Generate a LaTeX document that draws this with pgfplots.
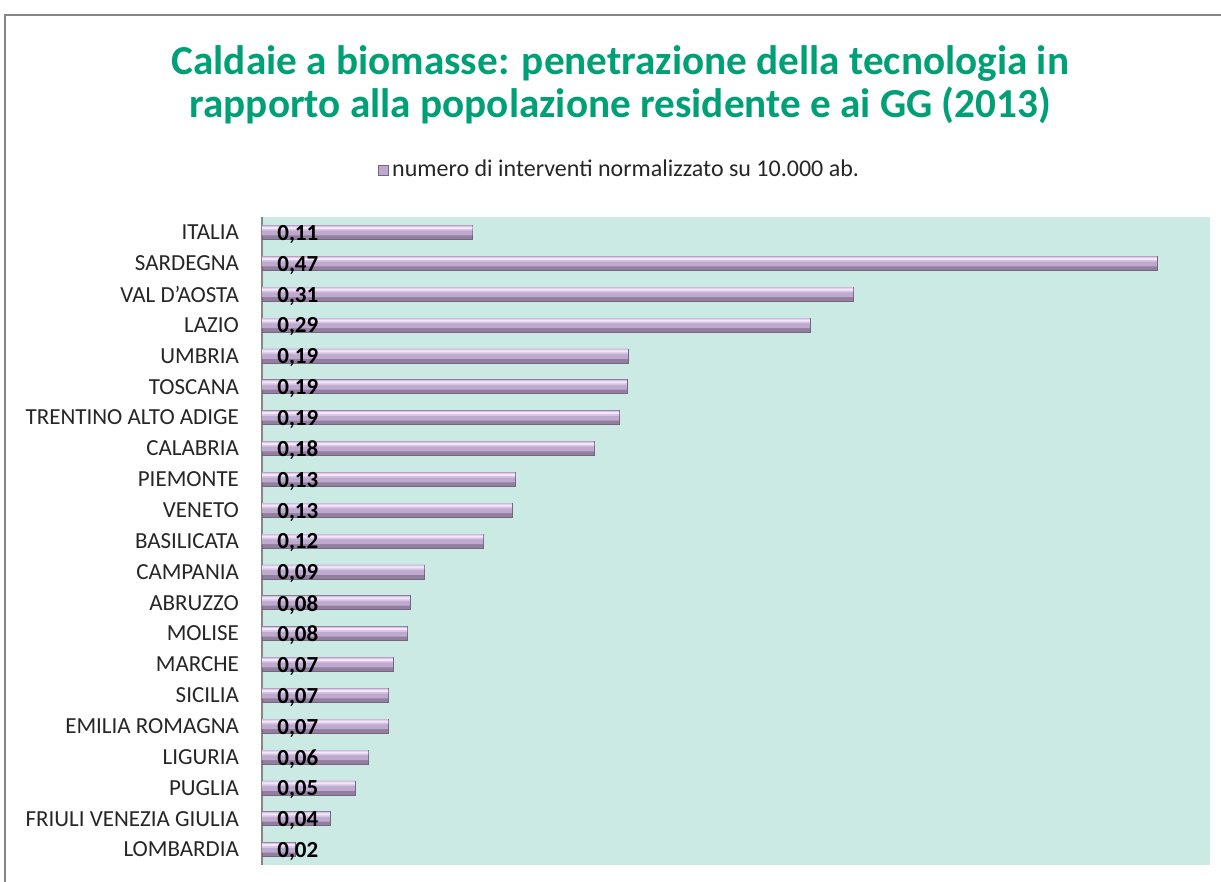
\documentclass[border=0pt]{standalone}
\usepackage{pgfplots}
\usepackage{pgfplotstable}
\pgfplotsset{compat=1.18}
\usepackage{fontspec}
\setmainfont{Carlito}
\definecolor{titlegreen}{RGB}{0,160,118}
\definecolor{plotbg}{RGB}{204,234,228}
\definecolor{barhi}{RGB}{246,230,250}
\definecolor{barlight}{RGB}{214,196,228}
\definecolor{barmid}{RGB}{190,170,206}
\definecolor{barbot}{RGB}{146,126,158}
\definecolor{bardraw}{RGB}{118,100,128}
\definecolor{framegray}{RGB}{134,134,134}
\pgfplotstableread{
idx val lab
0 0.1105 0,11
1 0.4700 0,47
2 0.3104 0,31
3 0.2878 0,29
4 0.1922 0,19
5 0.1917 0,19
6 0.1875 0,19
7 0.1744 0,18
8 0.1329 0,13
9 0.1313 0,13
10 0.1161 0,12
11 0.0851 0,09
12 0.0777 0,08
13 0.0762 0,08
14 0.0688 0,07
15 0.0662 0,07
16 0.0662 0,07
17 0.0557 0,06
18 0.0488 0,05
19 0.0357 0,04
20 0.0173 0,02
}\datatab
\begin{document}
\begin{tikzpicture}[x=1pt,y=1pt]
\useasboundingbox (0,0) rectangle (610.5,441);
\draw[framegray, line width=1pt] (2.5,0) -- (2.5,433.5) -- (610.5,433.5);
\begin{axis}[
  at={(131pt,8.5pt)}, anchor=south west,
  scale only axis, width=474pt, height=324pt,
  xmin=0, xmax=0.4979,
  ymin=-0.5, ymax=20.5, y dir=reverse,
  axis x line=none,
  axis y line*=left,
  y axis line style={framegray, line width=0.6pt, -},
  axis background/.style={fill=plotbg},
  ytick={0,...,20},
  major tick length=0pt,
  yticklabels={ITALIA,SARDEGNA,VAL D'AOSTA,LAZIO,UMBRIA,TOSCANA,TRENTINO ALTO ADIGE,CALABRIA,PIEMONTE,VENETO,BASILICATA,CAMPANIA,ABRUZZO,MOLISE,MARCHE,SICILIA,EMILIA ROMAGNA,LIGURIA,PUGLIA,FRIULI VENEZIA GIULIA,LOMBARDIA},
  yticklabel style={font=\fontsize{11.5}{13}\selectfont, text=black!85, anchor=east, xshift=-8pt},
  title={Caldaie a biomasse: penetrazione della tecnologia in\\rapporto alla popolazione residente e ai GG (2013)},
  title style={at={(0.378,1.186)}, anchor=center, align=center, font=\fontsize{20.6}{21.5}\selectfont\bfseries, text=titlegreen},
  legend style={at={(0.378,1.0725)}, anchor=center, draw=none, fill=none, font=\fontsize{12}{14}\selectfont, text=black!85, inner sep=0pt},
  legend image code/.code={\fill[barmid, draw=bardraw, line width=0.3pt] (0pt,-2.5pt) rectangle (5pt,2.5pt);},
  clip=false,
]
\addplot[xbar, bar width=7pt, bar shift=0pt, fill=barbot, draw=bardraw, line width=0.3pt] table[x=val, y=idx] {\datatab};
\addlegendentry{numero di interventi normalizzato su 10.000 ab.}
\addplot[forget plot, xbar, bar shift=1pt, bar width=5pt, fill=barmid, draw=none] table[x=val, y=idx] {\datatab};
\addplot[forget plot, xbar, bar shift=2.1pt, bar width=2.5pt, fill=barlight, draw=none] table[x=val, y=idx] {\datatab};
\addplot[forget plot, xbar, bar shift=2.2pt, bar width=1pt, fill=barhi, draw=none] table[x=val, y=idx] {\datatab};
\addplot[forget plot, draw=none, mark=none, nodes near coords, point meta=explicit symbolic,
  nodes near coords style={anchor=west, xshift=7.5pt, yshift=-1pt, font=\fontsize{11.5}{13}\selectfont\bfseries, text=black, inner sep=0pt}]
  table[x expr=0, y=idx, meta=lab] {\datatab};
\end{axis}
\end{tikzpicture}
\end{document}
